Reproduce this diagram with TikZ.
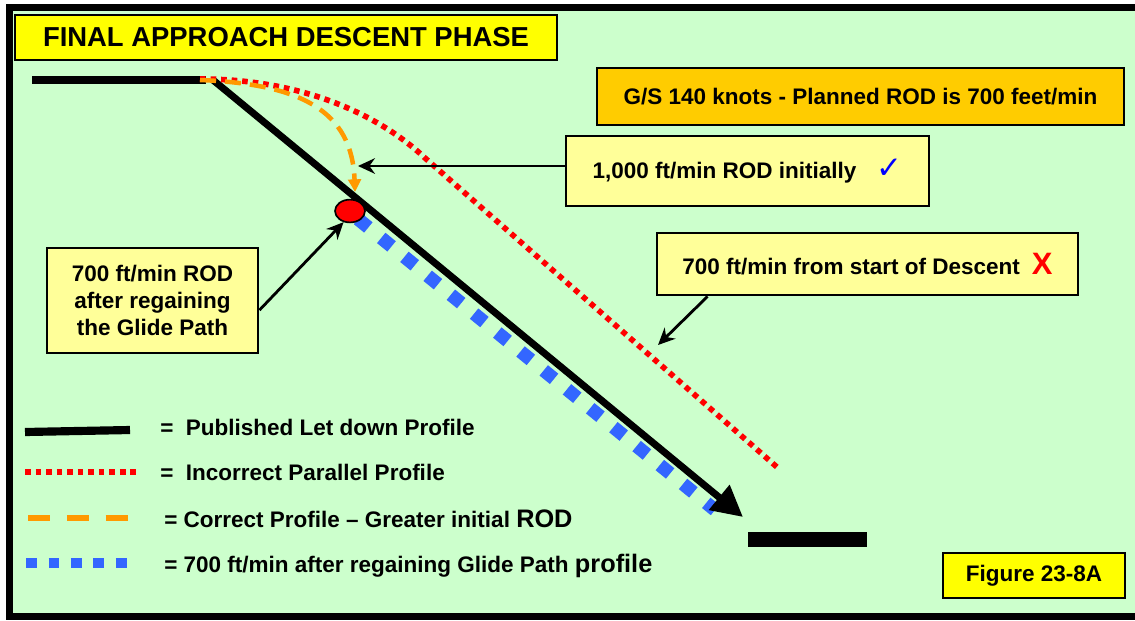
\documentclass[tikz,border=0pt]{standalone}
\usepackage{fontspec}
\setmainfont{Liberation Sans}
\newfontfamily\symfont{DejaVu Sans}
\usepackage{xcolor}
\usepackage{tikz}
\usetikzlibrary{arrows.meta, positioning, shapes.geometric}

\definecolor{bggreen}{HTML}{CCFFCC}
\definecolor{titleyellow}{HTML}{FFFF00}
\definecolor{noteyellow}{HTML}{FFFF99}
\definecolor{gsorange}{HTML}{FFCC00}
\definecolor{corrorange}{HTML}{FF9900}
\definecolor{glideblue}{HTML}{3366FF}
\definecolor{checkblue}{HTML}{0000FF}

\newcommand{\boxfont}{\fontsize{16}{19.2}\selectfont\bfseries}
\newcommand{\bigfont}{\fontsize{18}{19.2}\selectfont\bfseries}

\begin{document}
\begin{tikzpicture}[
    x=0.025cm, y=-0.025cm,
    titlebox/.style={draw, line width=1.5pt, fill=titleyellow, inner sep=0pt,
                     font=\fontsize{19.5}{22}\selectfont\bfseries},
    note/.style={draw, line width=2pt, fill=noteyellow, inner sep=0pt, font=\boxfont},
    legtext/.style={anchor=base west, inner sep=0pt, font=\boxfont},
    published/.style={line width=5pt},
    parallel/.style={draw=red, line width=4pt, dash pattern=on 4pt off 3.5pt},
    correct/.style={draw=corrorange, line width=3.2pt, dash pattern=on 11.4pt off 6.4pt},
    glide/.style={draw=glideblue, line width=9.5pt, dash pattern=on 9.5pt off 11.8pt},
    arr/.style={-{Stealth[length=12pt, width=11pt]}, line width=2pt}
]
\useasboundingbox (0,0) rectangle (1135,620);
\fill[white] (0,0) rectangle (1135,620);
\fill[bggreen] (9,7) rectangle (1135,616);
\draw[line width=5pt] (1135,7.5) -- (9.5,7.5) -- (9.5,616.5) -- (1135,616.5);

% boxes
\node[titlebox, minimum width=13.55cm, minimum height=1.125cm] (title) at (286,37.5)
    {FINAL APPROACH DESCENT PHASE};
\node[note, fill=gsorange, minimum width=13.175cm, minimum height=1.425cm] (gs) at (860.5,96.5)
    {G/S 140 knots - Planned ROD is 700 feet/min};
\node[note, minimum width=9.075cm, minimum height=1.75cm] (initial) at (747.5,171)
    {1,000 ft/min ROD initially\hspace{0.5cm}{\color{checkblue}\symfont\bfseries\fontsize{22}{22}\selectfont ✓}};
\node[note, minimum width=10.525cm, minimum height=1.55cm] (wrong) at (867.5,264)
    {700 ft/min from start of Descent\hspace{0.3cm}{\color{red}\fontsize{22}{22}\selectfont X}};
\node[note, align=center, minimum width=5.275cm, minimum height=2.625cm] (regain) at (152.5,300.5)
    {700 ft/min ROD\\after regaining\\the Glide Path};
\node[titlebox, font=\boxfont, minimum width=4.55cm, minimum height=1.125cm] (fig) at (1034,575.5)
    {Figure 23-8A};

% profiles
\coordinate (start) at (32,80);
\coordinate (tod) at (206,80);
\coordinate (gptop) at (213,80);
\coordinate (gpend) at (743,517);
\draw[glide] (358,219) -- (715,510);
\draw[published] (start) -- (tod);
\draw[published, -{Triangle[length=22pt, width=22pt]}] (gptop) -- (gpend);
\fill (748,532) rectangle (867,547);
\draw[parallel] (200,79) .. controls (310,79) and (385,120) .. (425,158) -- (778,468);
\draw[correct, -{Triangle[length=9pt, width=9pt]}] (200,80) .. controls (300,84) and (352,110) .. (355,192);
\node[draw, fill=red, line width=1.2pt, ellipse, minimum width=0.75cm, minimum height=0.57cm,
      inner sep=0pt] (dot) at (350,211) {};

% callout arrows
\coordinate (chk) at (358,166);
\coordinate (redpt) at (658,345);
\draw[arr] (initial.west |- chk) -- (chk);
\draw[arr] ([yshift=-0.24cm]regain.east) -- (dot.240);
\draw[arr] ([xshift=1.3cm]wrong.south west) -- (redpt);

% legend
\draw[published, line width=5.8pt] (25,432) -- (130,430);
\draw[parallel] (25,472) -- (138,472);
\draw[correct, line width=4.2pt, dash pattern=on 15.6pt off 12pt] (28,518) -- (130,518);
\draw[glide, line width=7.8pt, dash pattern=on 7.8pt off 8.2pt] (26,563) -- (128,563);
\node[legtext] (leg1) at (160,435) {=\ \ Published Let down Profile};
\node[legtext] (leg2) at (160,480) {=\ \ Incorrect Parallel Profile};
\node[legtext] (leg3) at (164,527) {= Correct Profile -- Greater initial {\bigfont ROD}};
\node[legtext] (leg4) at (164,572) {= 700 ft/min after regaining Glide Path {\bigfont profile}};

\end{tikzpicture}
\end{document}
